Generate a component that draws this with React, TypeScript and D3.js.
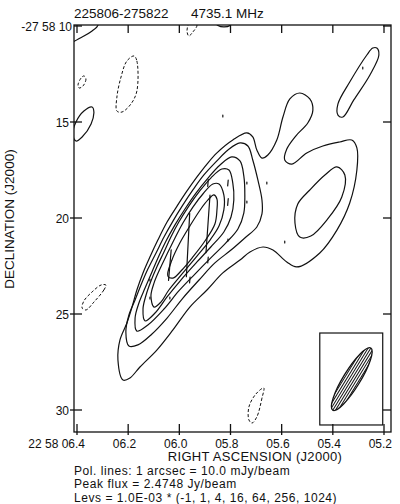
import * as d3 from 'd3';

// RA in seconds of 22 58 xx, Dec in arcsec of -27 58 xx
const raTicks = [6.4, 6.2, 6.0, 5.8, 5.6, 5.4, 5.2];
const raLabels = ['22 58 06.4', '06.2', '06.0', '05.8', '05.6', '05.4', '05.2'];
const decTicks = [10, 15, 20, 25, 30];
const decLabels = ['-27 58 10', '15', '20', '25', '30'];

const levels = [-1, 1, 4, 16, 64, 256, 1024];

// contour traces, [ra, dec]
const lev1Main = [
  [6.220, 28.44], [6.240, 27.40], [6.232, 26.35], [6.205, 25.47], [6.185, 24.64], [6.166, 23.75],
  [6.142, 22.86], [6.115, 22.03], [6.084, 21.15], [6.048, 20.21], [6.009, 19.38], [5.970, 18.59],
  [5.931, 17.86], [5.892, 17.19], [5.853, 16.61], [5.791, 15.94], [5.736, 15.57], [5.713, 15.78],
  [5.697, 16.46], [5.677, 16.88], [5.654, 16.72], [5.619, 15.94], [5.595, 14.74], [5.568, 13.80],
  [5.529, 13.49], [5.490, 13.80], [5.478, 14.38], [5.498, 15.05], [5.545, 15.73], [5.580, 16.41],
  [5.588, 16.98], [5.560, 17.19], [5.502, 16.61], [5.439, 16.25], [5.373, 16.04], [5.326, 15.94],
  [5.306, 16.35], [5.306, 17.50], [5.334, 19.22], [5.384, 20.63], [5.451, 21.82], [5.541, 22.55],
  [5.580, 22.29], [5.634, 21.67], [5.673, 21.51], [5.724, 21.77], [5.763, 22.19], [5.830, 22.86],
  [5.892, 23.75], [5.959, 24.64], [6.025, 25.83], [6.088, 26.88], [6.154, 27.76], [6.193, 28.33],
];
const lev1TopRight = [
  [5.228, 11.15], [5.220, 11.51], [5.255, 12.55], [5.318, 13.85], [5.361, 14.74],
  [5.380, 14.64], [5.380, 14.06], [5.334, 12.92], [5.267, 11.51], [5.244, 11.15],
];
const lev1Left = [
  [6.341, 14.22], [6.334, 14.48], [6.345, 15.10], [6.380, 15.78],
  [6.404, 15.99], [6.416, 15.63], [6.404, 15.00], [6.373, 14.43],
];
const lev1Corner = [[6.427, 10.83], [6.380, 10.57], [6.341, 10.26], [6.318, 9.95], [6.326, 9.58], [6.427, 9.58]];
const lev1Top = [[5.861, 9.79], [5.849, 9.97], [5.826, 10.05], [5.802, 9.97], [5.795, 9.79], [5.826, 9.58]];

const lev4Main = [
  [6.197, 26.67], [6.209, 25.94], [6.197, 25.05], [6.173, 24.27], [6.150, 23.49], [6.123, 22.66],
  [6.091, 21.82], [6.060, 20.99], [6.025, 20.16], [5.986, 19.32], [5.947, 18.54], [5.904, 17.76],
  [5.857, 17.08], [5.810, 16.46], [5.763, 16.09], [5.732, 16.25], [5.713, 16.98], [5.693, 18.02],
  [5.677, 19.06], [5.677, 19.79], [5.697, 20.47], [5.744, 21.04], [5.798, 21.67], [5.861, 22.34],
  [5.923, 23.23], [5.986, 24.17], [6.048, 25.21], [6.107, 26.04], [6.162, 26.61],
];
const lev4Lobe = [
  [5.384, 17.34], [5.353, 17.76], [5.365, 18.91], [5.420, 20.05], [5.486, 20.94],
  [5.529, 20.99], [5.548, 20.26], [5.537, 19.27], [5.490, 18.54], [5.431, 17.76],
];
const lev16 = [
  [6.166, 25.89], [6.173, 25.21], [6.158, 24.43], [6.134, 23.65], [6.107, 22.81], [6.080, 21.98],
  [6.052, 21.20], [6.017, 20.36], [5.978, 19.53], [5.935, 18.70], [5.888, 17.92], [5.841, 17.24],
  [5.795, 16.82], [5.763, 17.03], [5.748, 17.81], [5.744, 18.80], [5.748, 19.74], [5.771, 20.57],
  [5.818, 21.30], [5.877, 22.08], [5.939, 22.92], [6.002, 23.80], [6.060, 24.74], [6.123, 25.57],
];
const lev64 = [
  [6.134, 25.36], [6.142, 24.74], [6.130, 24.01], [6.111, 23.28], [6.088, 22.55], [6.060, 21.77],
  [6.033, 20.99], [6.002, 20.21], [5.963, 19.38], [5.920, 18.59], [5.877, 17.92], [5.834, 17.45],
  [5.806, 17.50], [5.791, 18.18], [5.787, 19.06], [5.798, 19.95], [5.826, 20.73], [5.877, 21.51],
  [5.931, 22.29], [5.994, 23.23], [6.048, 24.11], [6.095, 24.95],
];
const lev256 = [
  [6.099, 24.64], [6.111, 24.06], [6.099, 23.39], [6.076, 22.66], [6.048, 21.88], [6.017, 21.04],
  [5.986, 20.26], [5.947, 19.43], [5.908, 18.75], [5.869, 18.23], [5.845, 18.23], [5.826, 18.80],
  [5.826, 19.58], [5.845, 20.42], [5.880, 21.15], [5.931, 21.98], [5.986, 22.86], [6.041, 23.75],
  [6.072, 24.38],
];
const lev1024 = [
  [6.045, 23.02], [6.029, 22.19], [5.998, 21.30], [5.959, 20.42], [5.916, 19.53], [5.888, 19.06],
  [5.865, 18.80], [5.853, 19.01], [5.853, 19.58], [5.861, 20.31], [5.900, 21.20], [5.947, 22.03],
  [5.990, 22.71], [6.025, 23.13],
];

// negative (-1) contours
const neg1 = [[6.177, 11.56], [6.166, 11.82], [6.166, 13.39], [6.189, 14.06], [6.224, 14.48], [6.244, 14.43], [6.244, 13.70], [6.228, 12.66], [6.205, 11.82]];
const neg2 = [[6.373, 12.60], [6.365, 12.76], [6.377, 13.13], [6.392, 13.23], [6.396, 13.07], [6.384, 12.71]];
const neg3 = [[5.947, 9.79], [5.931, 9.95], [5.947, 10.31], [5.963, 10.52], [5.970, 10.26], [5.963, 9.90]];
const neg4 = [[6.287, 23.49], [6.295, 23.75], [6.334, 24.38], [6.365, 24.79], [6.380, 24.69], [6.373, 24.32], [6.341, 23.85], [6.306, 23.49]];
const neg5 = [[5.670, 28.85], [5.677, 29.38], [5.697, 30.36], [5.716, 30.68], [5.728, 30.52], [5.728, 29.84], [5.701, 29.17]];

const contours = [
  { level: 1, pts: lev1Main }, { level: 1, pts: lev1TopRight }, { level: 1, pts: lev1Left },
  { level: 1, pts: lev1Corner }, { level: 1, pts: lev1Top },
  { level: 4, pts: lev4Main }, { level: 4, pts: lev4Lobe },
  { level: 16, pts: lev16 }, { level: 64, pts: lev64 }, { level: 256, pts: lev256 }, { level: 1024, pts: lev1024 },
  { level: -1, pts: neg1 }, { level: -1, pts: neg2 }, { level: -1, pts: neg3 }, { level: -1, pts: neg4 }, { level: -1, pts: neg5 },
];

// pol vectors: ra, dec, length (arcsec), position angle (deg)
const polVectors = [
  [5.888, 20.31, 3.0, -4], [5.966, 21.41, 3.3, -3], [6.037, 22.45, 1.6, -5],
  [5.830, 14.69, 0.1, 0], [5.888, 18.18, 0.35, -5], [5.810, 18.18, 0.3, -5], [5.736, 18.18, 0.1, 0],
  [5.658, 18.18, 0.1, 0], [5.736, 19.17, 0.1, 0], [5.810, 19.17, 0.35, -5], [5.588, 21.25, 0.1, 0],
  [6.115, 23.23, 0.1, 0], [6.115, 24.17, 0.1, 0], [6.037, 24.17, 0.1, 0], [5.959, 23.23, 0.3, -5],
  [5.888, 22.19, 0.3, -5], [5.810, 21.15, 0.1, 0], [5.283, 12.19, 0.1, 0],
];

// beam: ra, dec, bmaj, bmin (arcsec), pa (deg); box corners
const beam = [5.326, 28.39, 3.8, 0.88, -31.5];
const beamBox = [5.451, 25.99, 5.205, 30.78];

const font = "Arial, 'Liberation Sans', sans-serif";
const ink = '#111';

export default function App() {
  const x = d3.scaleLinear().domain([6.4, 5.2]).range([77, 384]);
  const y = d3.scaleLinear().domain([10, 30]).range([26, 410]);
  const k = (y(30) - y(10)) / 20; // px per arcsec
  const fr = { l: 74, r: 391, t: 25, b: 432 };

  const path = d3.line<number[]>()
    .x(d => x(d[0]))
    .y(d => y(d[1]))
    .curve(d3.curveCatmullRomClosed.alpha(0.5));

  const [bra, bdec, bmaj, bmin, bpa] = beam;
  const bx = x(bra), by = y(bdec);
  const rx = (bmin / 2) * k, ry = (bmaj / 2) * k;
  const hatch = d3.range(-rx + 1.6, rx, 2.3);

  return (
    <svg width={400} height={504} style={{ position: 'absolute', left: 0, top: 0, background: '#fff' }}
      fontFamily={font}>
      <defs>
        <clipPath id="plotClip">
          <rect x={fr.l} y={fr.t} width={fr.r - fr.l} height={fr.b - fr.t} />
        </clipPath>
        <clipPath id="beamClip">
          <ellipse cx={0} cy={0} rx={rx} ry={ry} />
        </clipPath>
      </defs>

      <g clipPath="url(#plotClip)" fill="none" stroke={ink} strokeWidth={1.2}>
        {contours.map((c, i) => (
          <path key={i} d={path(c.pts) || ''}
            strokeDasharray={c.level < 0 ? '3,2' : undefined}
            strokeWidth={c.level < 0 ? 1 : 1.2} />
        ))}
        {polVectors.map((v, i) => {
          const [ra, dec, len, pa] = v;
          const h = Math.max(len * k, 1.6) / 2;
          const t = (pa * Math.PI) / 180;
          const dx = -Math.sin(t) * h, dy = -Math.cos(t) * h;
          return (
            <line key={i} x1={x(ra) - dx} y1={y(dec) - dy} x2={x(ra) + dx} y2={y(dec) + dy}
              strokeWidth={1.2} strokeLinecap="round" />
          );
        })}
      </g>

      {/* beam box */}
      <rect x={x(beamBox[0])} y={y(beamBox[1])} width={x(beamBox[2]) - x(beamBox[0])}
        height={y(beamBox[3]) - y(beamBox[1])} fill="#fff" stroke={ink} strokeWidth={1.2} />
      <g transform={`translate(${bx},${by}) rotate(${-bpa})`}>
        <g clipPath="url(#beamClip)">
          {hatch.map((h, i) => (
            <line key={i} x1={h} y1={-ry} x2={h} y2={ry} stroke={ink} strokeWidth={1} />
          ))}
        </g>
        <ellipse cx={0} cy={0} rx={rx} ry={ry} fill="none" stroke={ink} strokeWidth={1.3} />
      </g>

      {/* frame and ticks */}
      <rect x={fr.l} y={fr.t} width={fr.r - fr.l} height={fr.b - fr.t} fill="none" stroke={ink} strokeWidth={1.3} />
      <g stroke={ink} strokeWidth={1.3}>
        {raTicks.map(t => (
          <g key={t}>
            <line x1={x(t)} x2={x(t)} y1={fr.t} y2={fr.t + 8} />
            <line x1={x(t)} x2={x(t)} y1={fr.b - 8} y2={fr.b + 3} />
          </g>
        ))}
        {decTicks.map(t => (
          <g key={t}>
            <line x1={t === 10 ? fr.l : fr.l - 4} x2={fr.l + 8} y1={y(t)} y2={y(t)} />
            <line x1={fr.r - 8} x2={fr.r} y1={y(t)} y2={y(t)} />
          </g>
        ))}
      </g>

      <g fill={ink} fontSize={12}>
        {raTicks.map((t, i) => (
          <text key={t} x={x(t) + 8} y={447.5} textAnchor="end">{raLabels[i]}</text>
        ))}
        {decTicks.map((t, i) => (
          <text key={t} x={i === 0 ? 72 : 69} y={y(t) + 4.5} textAnchor="end">{decLabels[i]}</text>
        ))}
      </g>

      <g fill={ink} fontSize={13.5}>
        <text x={74} y={18}>225806-275822</text>
        <text x={191} y={18}>4735.1 MHz</text>
        <text transform="translate(14,219) rotate(-90)" textAnchor="middle">DECLINATION (J2000)</text>
      </g>
      <text x={255} y={461} textAnchor="middle" fill={ink} fontSize={13} letterSpacing={0.3}>
        RIGHT ASCENSION (J2000)
      </text>
      <g fill={ink} fontSize={12} letterSpacing={0.55}>
        <text x={74} y={474.6}>Pol. lines: 1 arcsec = 10.0 mJy/beam</text>
        <text x={74} y={488.1}>Peak flux = 2.4748 Jy/beam</text>
        <text x={74} y={501.5}>{`Levs = 1.0E-03 * (${levels.join(', ')})`}</text>
      </g>
    </svg>
  );
}
